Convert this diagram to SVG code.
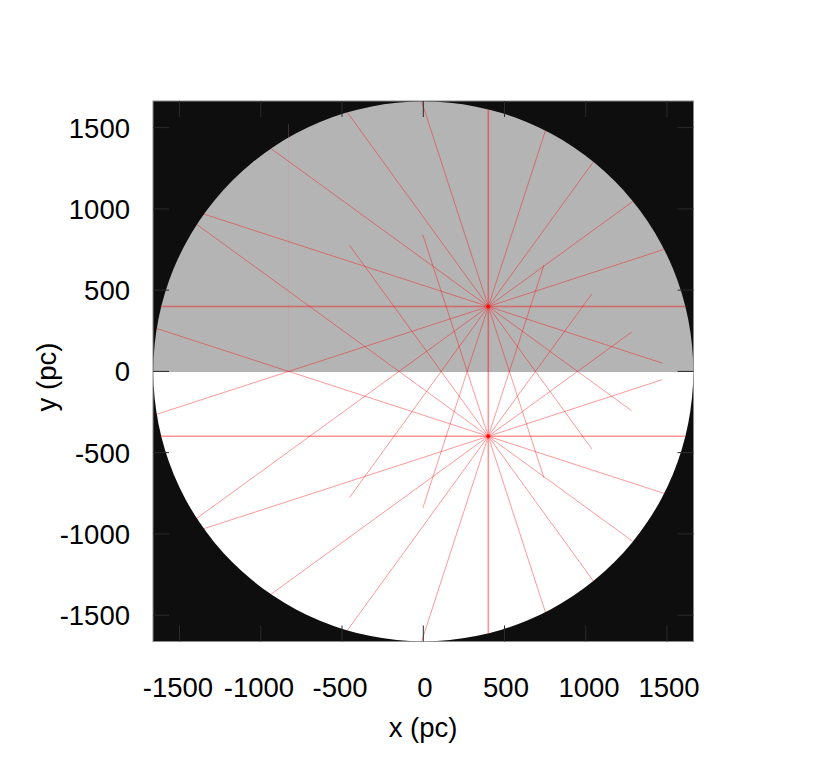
<svg xmlns="http://www.w3.org/2000/svg" width="830" height="773" viewBox="0 0 830 773">
  <style>
    .ray { stroke: #ff0000; stroke-opacity: 0.4; stroke-width: 1; fill: none; }
    .axisray { stroke: #ff0000; stroke-opacity: 0.42; stroke-width: 1.6; fill: none; }
    .tick { stroke: #2a2a2a; stroke-width: 1; }
    .lbl { font-family: "Liberation Sans", Arial, Helvetica, sans-serif; font-size: 27.5px; fill: #000; }
  </style>
  <rect width="830" height="773" fill="#ffffff"/>

  <g id="plot-area">
    <rect x="153" y="101" width="540.5" height="540.5" fill="#0e0e0e" stroke="#8a8a8a" stroke-width="1"/>
    <path id="upper-half" d="M153.3 371.4 A270 270 0 0 1 693.3 371.4 Z" fill="#b4b4b4"/>
    <path id="lower-half" d="M153.3 371.4 A270 270 0 0 0 693.3 371.4 Z" fill="#ffffff"/>
    <line x1="288.5" y1="124" x2="288.5" y2="371.4" stroke="#d08c8c" stroke-opacity="0.25" stroke-width="1"/>
  </g>

  <g id="connectors">
    <g id="rays-source-upper">
      <line class="axisray" x1="161.2" y1="306.5" x2="685.4" y2="306.5"/>
      <line class="ray" x1="488.3" y1="306.5" x2="664.1" y2="249.4"/>
      <line class="ray" x1="488.3" y1="306.5" x2="632.9" y2="201.4"/>
      <line class="ray" x1="488.3" y1="306.5" x2="593.4" y2="161.8"/>
      <line class="ray" x1="488.3" y1="306.5" x2="545.4" y2="130.7"/>
      <line class="ray" x1="488.3" y1="306.5" x2="421.7" y2="101.6"/>
      <line class="ray" x1="488.3" y1="306.5" x2="347.3" y2="112.4"/>
      <line class="ray" x1="488.3" y1="306.5" x2="270.9" y2="148.5"/>
      <line class="ray" x1="488.3" y1="306.5" x2="203.9" y2="214.1"/>
      <line class="ray" x1="488.3" y1="306.5" x2="156.7" y2="414.3"/>
      <line class="ray" x1="488.3" y1="306.5" x2="196.7" y2="518.4"/>
      <line class="ray" x1="488.3" y1="306.5" x2="349.6" y2="497.4"/>
      <line class="ray" x1="488.3" y1="306.5" x2="422.8" y2="508.1"/>
      <line class="ray" x1="488.3" y1="306.5" x2="543.9" y2="477.7"/>
      <line class="ray" x1="488.3" y1="306.5" x2="591.8" y2="448.9"/>
      <line class="ray" x1="488.3" y1="306.5" x2="631.5" y2="410.6"/>
      <line class="ray" x1="488.3" y1="306.5" x2="662.3" y2="363.1"/>
    </g>
    <g id="rays-source-lower">
      <line class="axisray" x1="161.2" y1="436.3" x2="685.4" y2="436.3"/>
      <line class="ray" x1="488.3" y1="436.3" x2="664.1" y2="493.4"/>
      <line class="ray" x1="488.3" y1="436.3" x2="632.9" y2="541.4"/>
      <line class="ray" x1="488.3" y1="436.3" x2="593.4" y2="581.0"/>
      <line class="ray" x1="488.3" y1="436.3" x2="545.4" y2="612.1"/>
      <line class="ray" x1="488.3" y1="436.3" x2="421.7" y2="641.2"/>
      <line class="ray" x1="488.3" y1="436.3" x2="347.3" y2="630.4"/>
      <line class="ray" x1="488.3" y1="436.3" x2="270.9" y2="594.3"/>
      <line class="ray" x1="488.3" y1="436.3" x2="203.9" y2="528.7"/>
      <line class="ray" x1="488.3" y1="436.3" x2="156.7" y2="328.5"/>
      <line class="ray" x1="488.3" y1="436.3" x2="196.7" y2="224.4"/>
      <line class="ray" x1="488.3" y1="436.3" x2="349.6" y2="245.4"/>
      <line class="ray" x1="488.3" y1="436.3" x2="422.8" y2="234.7"/>
      <line class="ray" x1="488.3" y1="436.3" x2="543.9" y2="265.1"/>
      <line class="ray" x1="488.3" y1="436.3" x2="591.8" y2="293.9"/>
      <line class="ray" x1="488.3" y1="436.3" x2="631.5" y2="332.2"/>
      <line class="ray" x1="488.3" y1="436.3" x2="662.3" y2="379.7"/>
    </g>
    <line id="vertical-ray" class="axisray" x1="488.3" y1="109.4" x2="488.3" y2="633.4"/>
  </g>

  <g id="sources">
    <circle id="source-upper" cx="488.3" cy="306.5" r="2" fill="#ff0000" fill-opacity="0.7"/>
    <circle id="source-lower" cx="488.3" cy="436.3" r="2" fill="#ff0000" fill-opacity="0.7"/>
  </g>

  <g id="ticks">
    <path class="tick" d="M179.5 101v16M260.8 101v16M342 101v16M423.3 101v16M504.5 101v16M585.8 101v16M667 101v16"/>
    <path class="tick" d="M179.5 641.5v-16M260.8 641.5v-16M342 641.5v-16M423.3 641.5v-16M504.5 641.5v-16M585.8 641.5v-16M667 641.5v-16"/>
    <path class="tick" d="M153 127.6h16M153 208.9h16M153 290.1h16M153 371.4h16M153 452.6h16M153 533.9h16M153 615.2h16"/>
    <path class="tick" d="M693.5 127.6h-16M693.5 208.9h-16M693.5 290.1h-16M693.5 371.4h-16M693.5 452.6h-16M693.5 533.9h-16M693.5 615.2h-16"/>
  </g>

  <g id="x-labels" class="lbl" text-anchor="middle">
    <text x="178" y="697">-1500</text>
    <text x="259" y="697">-1000</text>
    <text x="340" y="697">-500</text>
    <text x="425" y="697">0</text>
    <text x="506" y="697">500</text>
    <text x="589" y="697">1000</text>
    <text x="669" y="697">1500</text>
  </g>
  <g id="y-labels" class="lbl" text-anchor="end">
    <text x="130" y="137.5">1500</text>
    <text x="130" y="218.8">1000</text>
    <text x="130" y="300">500</text>
    <text x="130" y="381.3">0</text>
    <text x="130" y="462.5">-500</text>
    <text x="130" y="543.8">-1000</text>
    <text x="130" y="625.1">-1500</text>
  </g>
  <text id="x-title" class="lbl" x="423" y="737" text-anchor="middle">x (pc)</text>
  <text id="y-title" class="lbl" text-anchor="middle" transform="translate(56 377) rotate(-90)">y (pc)</text>
</svg>
